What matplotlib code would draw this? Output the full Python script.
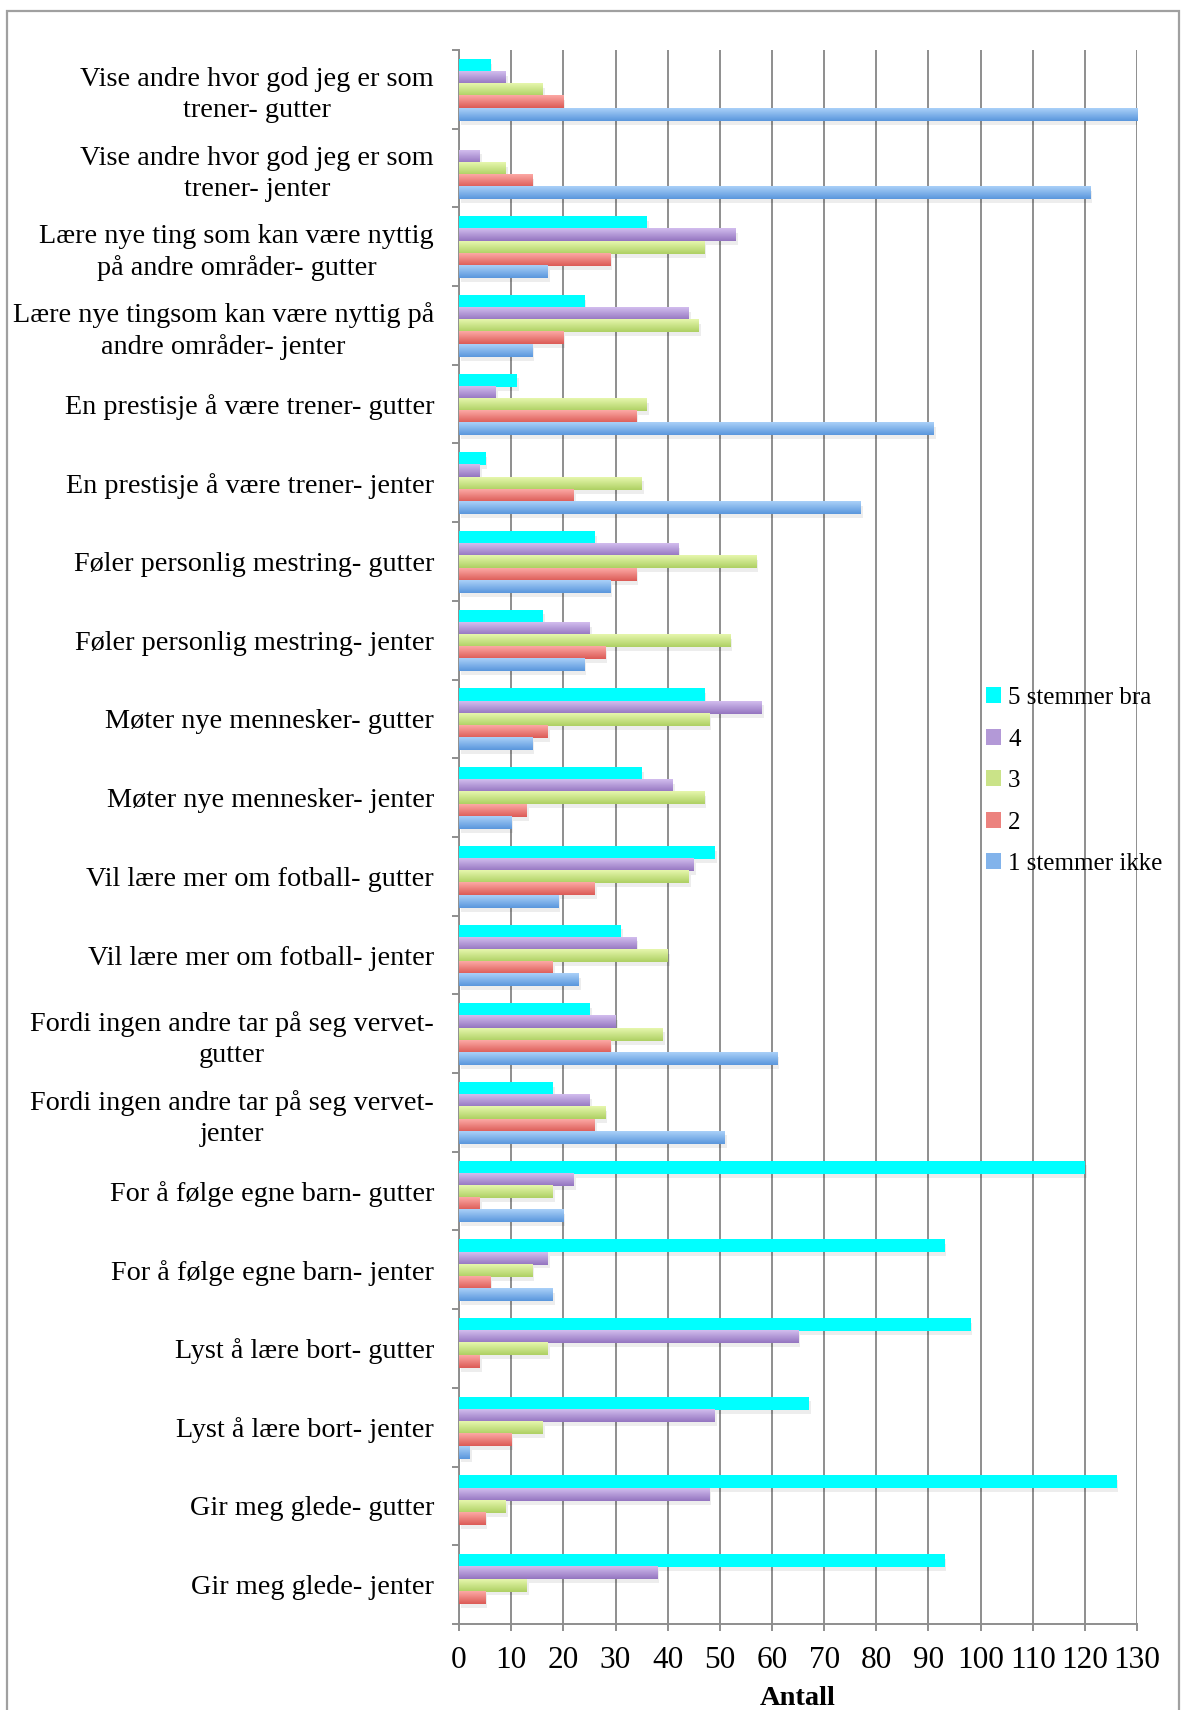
import matplotlib.pyplot as plt
import numpy as np
from matplotlib.patches import Rectangle, Patch
from matplotlib.colors import to_rgb

plt.rcParams['font.family'] = ['Liberation Serif', 'DejaVu Serif']

# categories, top to bottom
labels = [
    "Vise andre hvor god jeg er som\ntrener- gutter",
    "Vise andre hvor god jeg er som\ntrener- jenter",
    "Lære nye ting som kan være nyttig\npå andre områder- gutter",
    "Lære nye tingsom kan være nyttig på\nandre områder- jenter",
    "En prestisje å være trener- gutter",
    "En prestisje å være trener- jenter",
    "Føler personlig mestring- gutter",
    "Føler personlig mestring- jenter",
    "Møter nye mennesker- gutter",
    "Møter nye mennesker- jenter",
    "Vil lære mer om fotball- gutter",
    "Vil lære mer om fotball- jenter",
    "Fordi ingen andre tar på seg vervet-\ngutter",
    "Fordi ingen andre tar på seg vervet-\njenter",
    "For å følge egne barn- gutter",
    "For å følge egne barn- jenter",
    "Lyst å lære bort- gutter",
    "Lyst å lære bort- jenter",
    "Gir meg glede- gutter",
    "Gir meg glede- jenter",
]

s5 = [6, 0, 36, 24, 11, 5, 26, 16, 47, 35, 49, 31, 25, 18, 120, 93, 98, 67, 126, 93]
s4 = [9, 4, 53, 44, 7, 4, 42, 25, 58, 41, 45, 34, 30, 25, 22, 17, 65, 49, 48, 38]
s3 = [16, 9, 47, 46, 36, 35, 57, 52, 48, 47, 44, 40, 39, 28, 18, 14, 17, 16, 9, 13]
s2 = [20, 14, 29, 20, 34, 22, 34, 28, 17, 13, 26, 18, 29, 26, 4, 6, 4, 10, 5, 5]
s1 = [130, 121, 17, 14, 91, 77, 29, 24, 14, 10, 19, 23, 61, 51, 20, 18, 0, 2, 0, 0]

series = [
    ("5 stemmer bra", s5, "#00ffff", "#00ffff"),
    ("4", s4, "#d2bdee", "#9475c0"),
    ("3", s3, "#e6f7ad", "#aed063"),
    ("2", s2, "#fca9a5", "#dc5b56"),
    ("1 stemmer ikke", s1, "#aad0f8", "#5a97dd"),
]

fig = plt.figure(figsize=(11.81, 17.10), dpi=100)
ax = fig.add_axes([0.3887, 0.0503, 0.5741, 0.9205])

grey = "#8e8e8e"
y = np.arange(len(labels))
h = 0.155

for k, (name, vals, top, bottom) in enumerate(series):
    off = (k - 2) * h + 0.01
    mid = tuple((np.array(to_rgb(top)) + np.array(to_rgb(bottom))) / 2)
    # soft drop shadow
    ax.barh(y + off + 0.05, vals, height=h, left=0.4, color="#000000",
            alpha=0.07, zorder=2, linewidth=0)
    bars = ax.barh(y + off, vals, height=h, color=mid, zorder=3, linewidth=0)
    grad = np.linspace(0, 1, 32)[:, None, None]
    img = (1 - grad) * np.array(to_rgb(top)) + grad * np.array(to_rgb(bottom))
    for b in bars:
        if b.get_width() <= 0:
            continue
        ax.imshow(img, extent=(b.get_x(), b.get_x() + b.get_width(),
                               b.get_y() + b.get_height(), b.get_y()),
                  origin="upper", aspect="auto", zorder=4, interpolation="bilinear")

ax.set_xlim(0, 130)
ax.set_ylim(len(labels) - 0.5, -0.5)
ax.set_xticks(np.arange(0, 131, 10))
ax.set_yticks(y)
ax.set_yticklabels(labels)
ax.set_yticks(np.arange(-0.5, len(labels), 1), minor=True)
for t in ax.get_yticklabels():
    t.set_multialignment("center")
    t.set_linespacing(1.3)

ax.xaxis.grid(True, color=grey, linewidth=1.4, zorder=0)
ax.set_axisbelow(True)
for s in ["top", "right"]:
    ax.spines[s].set_visible(False)
for s in ["left", "bottom"]:
    ax.spines[s].set_color(grey)
    ax.spines[s].set_linewidth(1.4)

ax.tick_params(axis="y", which="major", length=0, pad=18, labelsize=20.3)
ax.tick_params(axis="y", which="minor", length=5, width=1.4, color=grey)
ax.tick_params(axis="x", length=5, width=1.4, color=grey, pad=11, labelsize=22.5)
ax.set_xlabel("Antall", fontsize=20.5, fontweight="bold", labelpad=8)

handles = [Patch(facecolor=tuple((np.array(to_rgb(t)) + np.array(to_rgb(b))) / 2), label=n)
           for n, _, t, b in series]
fig.legend(handles=handles, loc="upper left", bbox_to_anchor=(0.826, 0.604),
           frameon=False, fontsize=18, handlelength=0.6, handleheight=0.6,
           handletextpad=0.3, labelspacing=0.78, borderaxespad=0)

# outer frame of the chart area
fig.patches.append(Rectangle((0.006, -0.02), 0.992, 1.0136, transform=fig.transFigure,
                             fill=False, edgecolor="#a0a0a0", linewidth=1.6))

fig.savefig("out.png", dpi=100)
